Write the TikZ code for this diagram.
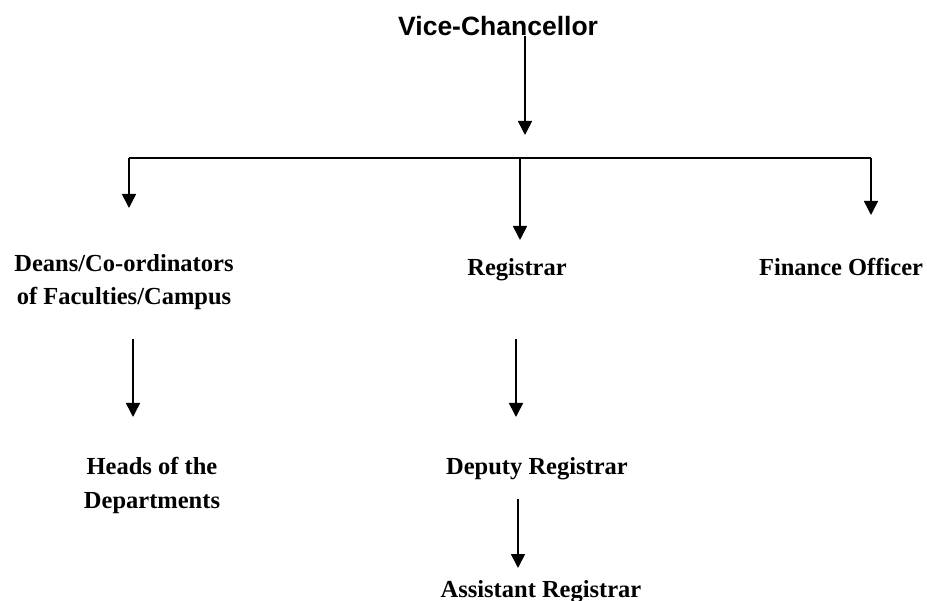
\documentclass[tikz,border=0pt]{standalone}
\usepackage{fontspec}
\setmainfont{Liberation Serif}
\newfontfamily\vcfont{Liberation Sans}
\usetikzlibrary{arrows.meta}
\begin{document}
\begin{tikzpicture}[x=1pt,y=-1pt,
  lbl/.style={font=\fontsize{24.5}{33}\selectfont\bfseries, inner sep=0pt, anchor=base},
  arr/.style={line width=1.6pt, -{Triangle[width=14pt,length=14pt]}},
  ln/.style={line width=1.6pt}]
\useasboundingbox (0,0) rectangle (927,601);
\node[font=\vcfont\fontsize{26.5}{30}\selectfont\bfseries, inner sep=0pt, anchor=base west] (vc) at (398,36) {Vice-Chancellor};
\node[lbl] (deans) at (124,272) {Deans/Co-ordinators};
\node[lbl] (deansb) at (124,305) {of Faculties/Campus};
\node[lbl] (reg) at (517,276) {Registrar};
\node[lbl] (fin) at (841,276) {Finance Officer};
\node[lbl] (heads) at (152,475) {Heads of the};
\node[lbl] (headsb) at (152,508) {Departments};
\node[lbl] (dep) at (537,475) {Deputy Registrar};
\node[lbl] (asst) at (541,597) {Assistant Registrar};
% connector end points
\coordinate (a1) at (525,135);
\coordinate (hl) at (129,158);
\coordinate (hr) at (871,158);
\coordinate (hm) at (520,158);
\coordinate (tl) at (129,208);
\coordinate (tm) at (520,240);
\coordinate (tr) at (871,215);
\coordinate (l2s) at (133,339);
\coordinate (l2e) at (133,417);
\coordinate (m2s) at (516,339);
\coordinate (m2e) at (516,417);
\coordinate (m3s) at (518,499);
\coordinate (m3e) at (518,568);
\draw[arr] (vc.south -| a1) -- (a1);
\draw[ln] (hl) -- (hr);
\draw[arr] (hl) -- (tl);
\draw[arr] (hm) -- (tm);
\draw[arr] (hr) -- (tr);
\draw[arr] (l2s) -- (l2e);
\draw[arr] (m2s) -- (m2e);
\draw[arr] (m3s) -- (m3e);
\end{tikzpicture}
\end{document}
